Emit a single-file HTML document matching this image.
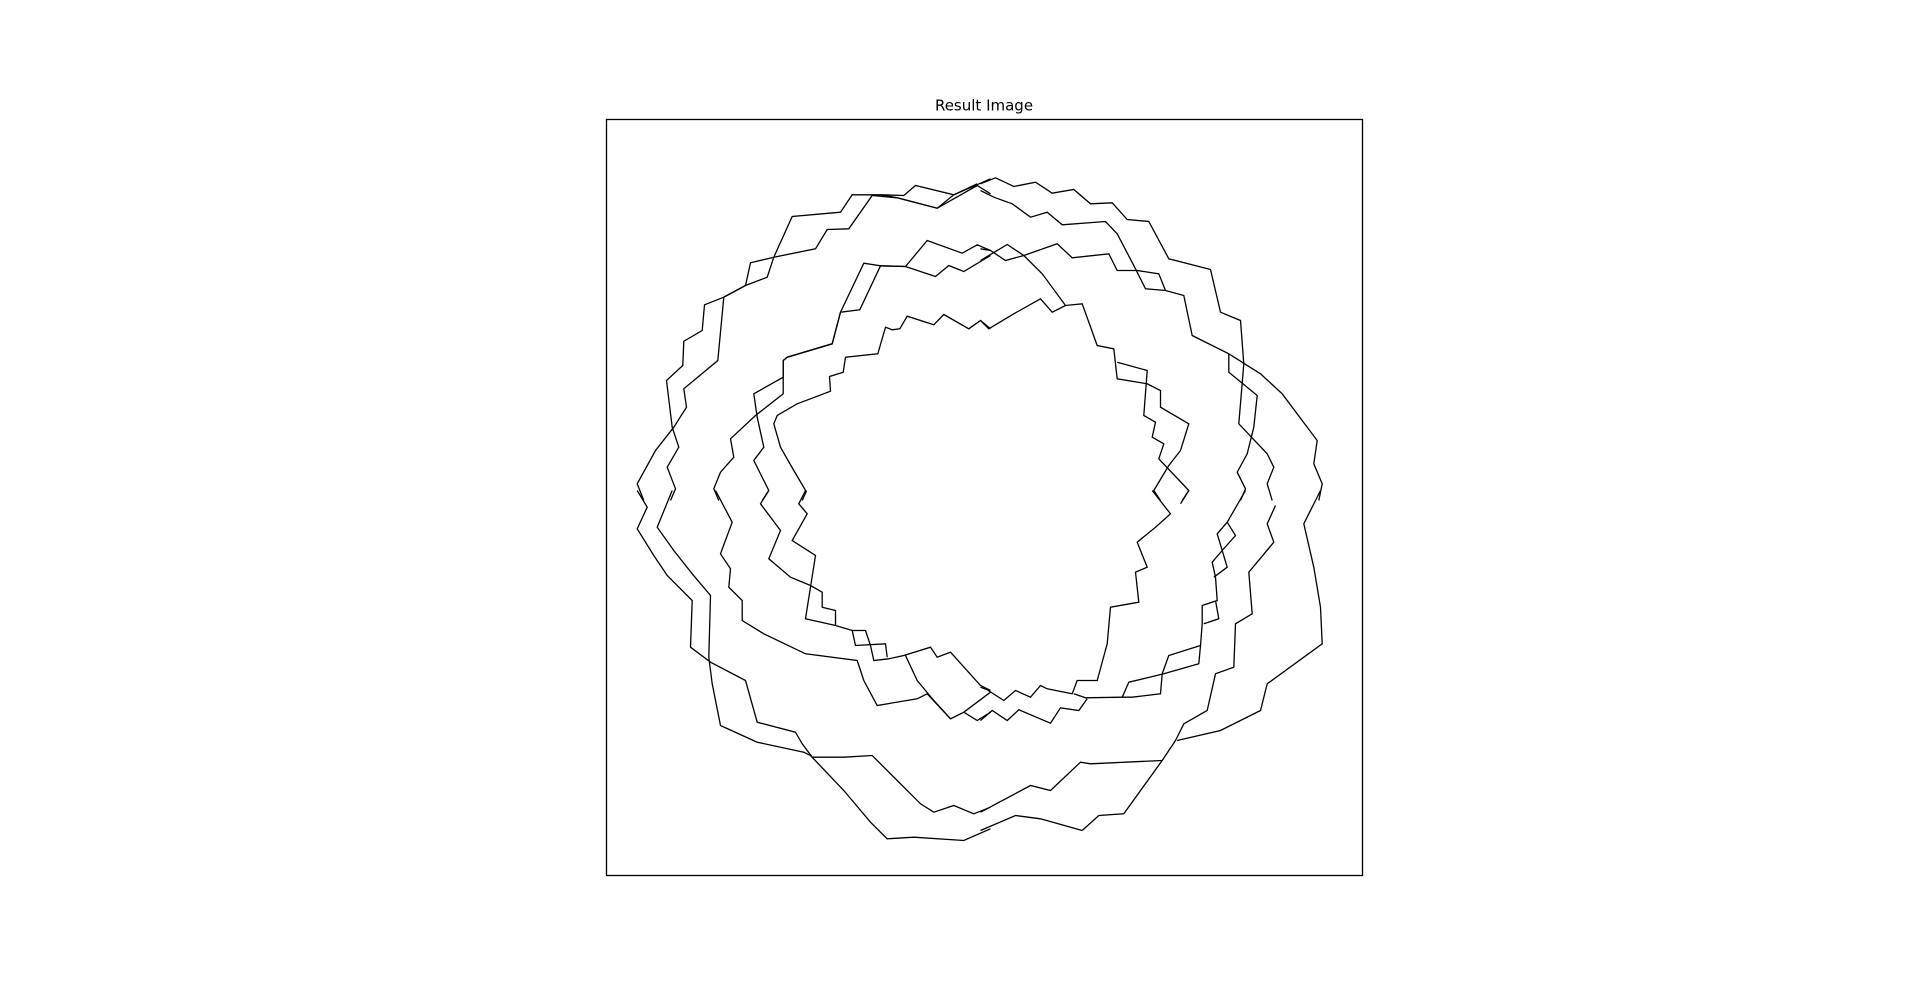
<!DOCTYPE html>
<html><head><meta charset="utf-8"><style>
html,body{margin:0;padding:0;background:#fff;width:1920px;height:983px;overflow:hidden}
svg{position:absolute;left:0;top:0}
</style></head><body>
<svg id="chart" width="1920" height="983">
<text x="984" y="110.5" text-anchor="middle" font-family="DejaVu Sans, Liberation Sans, sans-serif" font-size="15" fill="#000">Result Image</text>
<rect x="606.5" y="119.5" width="756" height="756" fill="none" stroke="#000" stroke-width="1.3"/>
<g id="contours"></g>
</svg>
<script>
// image coordinate domain (1/3 pixel units of a 756px square image)
const imageDomain = [0, 2268];
// tile origins in image units
const tileTL = [72, 123], tileTR = [1122, 123], tileBL = [72, 1113], tileBR = [1122, 1113];
// contour point series (image units relative to tile)
const segP = [[1040,70],[970,103],[920,143],[800,112],[750,103],[665,103],[630,155],[485,168],[430,290],[410,350],[345,375],[280,410],[222,433],[215,510],[160,542],[157,615],[108,660],[125,800],[145,860],[110,920],[135,985],[120,1020]];
const segQ = [[725,105],[655,205],[590,207],[555,265],[430,290],[360,307],[345,375],[280,410],[262,600],[160,685],[168,740],[130,800],[75,870],[20,970],[40,1020]];
const segA1 = [[750,103],[820,105],[855,75],[970,103],[1080,55]];
const segA2 = [[725,105],[800,112],[920,143],[1040,75],[1080,100]];
const segR = [[1080,270],[1040,253],[995,278],[890,240],[825,318],[750,316],[700,308],[630,455],[605,550],[470,590],[458,600],[458,700],[375,765],[300,835],[310,890],[270,935],[250,985],[265,1020]];
const segS = [[1080,285],[1000,333],[955,315],[915,348],[825,318],[750,316],[688,448],[630,455],[605,550],[470,590],[458,600],[458,650],[370,700],[380,770],[400,860],[370,900],[415,990],[395,1020]];
const segT = [[1080,505],[1050,480],[1015,505],[940,462],[910,493],[830,467],[808,505],[785,508],[765,500],[742,580],[645,590],[638,635],[597,648],[600,692],[500,730],[440,765],[430,790],[450,860],[490,930],[527,993],[515,1020]];
const z5a = [[0,70],[45,52],[100,78],[165,65],[215,98],[280,87],[330,130],[395,127],[440,177],[505,183],[565,295],[690,327],[720,455],[780,480],[790,610],[775,790],[860,880],[880,920],[860,970],[875,1020]];
const z5b = [[0,90],[40,110],[95,130],[150,170],[200,155],[245,193],[375,183],[410,220],[465,325],[495,385],[555,390],[610,405],[635,525],[745,580],[840,640],[905,700],[1010,840],[1000,910],[1025,970],[1015,1020]];
const z5c = [[0,265],[30,270],[75,300],[130,285],[230,250],[275,292],[385,280],[410,330],[470,330],[535,340],[555,390]];
const z5d = [[0,300],[80,252],[130,285],[185,340],[255,435],[305,430],[350,555],[400,565],[410,655],[500,670],[540,690],[540,740],[625,790],[600,870],[565,915],[520,990],[540,1020]];
const z5e = [[0,480],[25,505],[100,460],[180,415],[215,455],[255,435]];
const z5f = [[410,605],[500,630],[490,765],[525,785],[515,830],[550,850],[535,895],[625,990],[605,1020]];
const z5g = [[745,580],[745,635],[830,705],[820,800],[800,880],[770,935],[795,985],[780,1020]];
const z7a = [[515,0],[570,70],[525,110],[470,155],[500,230],[465,245],[475,335],[390,350],[380,460],[350,570],[290,570],[275,610],[200,595],[180,585],[150,620],[105,600],[70,630],[20,598],[0,590]];
const z7b = [[625,0],[600,40]];
const z7c = [[795,0],[740,95],[710,130],[725,180],[695,215],[705,260],[710,330],[665,345],[665,400],[660,465],[565,495],[545,550],[540,610],[455,620],[425,620],[315,622],[280,610]];
const z7d = [[740,95],[765,135],[725,180],[740,230],[700,260]];
const z7e = [[705,330],[715,385],[670,400]];
const z7f = [[660,465],[655,520],[550,550],[445,575],[425,620]];
const z7g = [[885,45],[860,100],[880,155],[805,245],[815,370],[765,400],[760,530],[705,550],[680,660],[610,700],[585,750],[545,810],[430,970],[355,975],[305,1020]];
const z7h = [[1020,0],[970,100],[1000,230],[1020,350],[1025,460],[860,580],[840,660],[720,720],[590,750]];
const z7i = [[545,810],[330,820],[300,815],[210,900],[150,885],[0,965]];
const z7j = [[0,1020],[105,975],[180,985],[305,1020]];
const z7k = [[0,690],[35,660],[80,690],[115,658],[210,698],[240,652],[295,660],[320,625]];
const z6a = [[20,0],[50,50],[20,115],[70,195],[110,255],[185,330],[180,470],[240,515],[345,570],[380,695],[495,725],[515,760],[545,800],[640,800],[725,795],[800,870],[870,940],[910,965],[970,945],[1030,970],[1080,950]];
const z6b = [[125,0],[80,110],[130,180],[185,250],[240,315],[235,500],[245,580],[270,705],[380,755],[520,785],[540,795],[640,900],[720,995],[770,1045],[850,1040],[1000,1050],[1080,1015]];
const z6c = [[255,0],[305,95],[270,190],[300,235],[295,290],[335,330],[335,390],[400,430],[525,490],[680,510],[700,570],[740,645],[860,625],[890,610],[960,685],[1000,665],[1080,605]];
const z6d = [[415,0],[390,40],[450,120],[415,205],[480,260],[540,285],[575,305],[575,350],[615,360],[615,405],[665,420],[705,420],[720,465],[730,510],[775,505],[820,495],[900,470],[920,500],[960,485],[1050,585],[1080,600]];
const z6e = [[525,0],[505,40],[530,70],[485,150],[555,195],[525,385],[615,405]];
const z6f = [[665,420],[675,465],[765,460],[770,500]];
const z6g = [[825,495],[860,570],[910,630],[960,685]];
const z6h = [[1000,665],[1040,690],[1080,665]];

const frameLeft = 606.5, frameTop = 119.5, frameSize = 756;
function xScale(v){ return frameLeft + (v - imageDomain[0]) / (imageDomain[1]-imageDomain[0]) * frameSize; }
function yScale(v){ return frameTop + (v - imageDomain[0]) / (imageDomain[1]-imageDomain[0]) * frameSize; }

const series = [
 ['contour-p', segP, tileTL], ['contour-q', segQ, tileTL], ['contour-a1', segA1, tileTL], ['contour-a2', segA2, tileTL],
 ['contour-r', segR, tileTL], ['contour-s', segS, tileTL], ['contour-t', segT, tileTL],
 ['contour-z5a', z5a, tileTR], ['contour-z5b', z5b, tileTR], ['contour-z5c', z5c, tileTR], ['contour-z5d', z5d, tileTR],
 ['contour-z5e', z5e, tileTR], ['contour-z5f', z5f, tileTR], ['contour-z5g', z5g, tileTR],
 ['contour-z7a', z7a, tileBR], ['contour-z7b', z7b, tileBR], ['contour-z7c', z7c, tileBR], ['contour-z7d', z7d, tileBR],
 ['contour-z7e', z7e, tileBR], ['contour-z7f', z7f, tileBR], ['contour-z7g', z7g, tileBR], ['contour-z7h', z7h, tileBR],
 ['contour-z7i', z7i, tileBR], ['contour-z7j', z7j, tileBR], ['contour-z7k', z7k, tileBR],
 ['contour-z6a', z6a, tileBL], ['contour-z6b', z6b, tileBL], ['contour-z6c', z6c, tileBL], ['contour-z6d', z6d, tileBL],
 ['contour-z6e', z6e, tileBL], ['contour-z6f', z6f, tileBL], ['contour-z6g', z6g, tileBL], ['contour-z6h', z6h, tileBL]
];
const g = document.getElementById('contours');
const NS = 'http://www.w3.org/2000/svg';
series.forEach(function(s){
  const pts = s[1].map(function(p){ return xScale(p[0]+s[2][0]).toFixed(1)+','+yScale(p[1]+s[2][1]).toFixed(1); }).join(' ');
  const pl = document.createElementNS(NS,'polyline');
  pl.setAttribute('points', pts);
  pl.setAttribute('fill','none');
  pl.setAttribute('stroke','#000');
  pl.setAttribute('stroke-width','1.3');
  pl.setAttribute('stroke-linejoin','miter');
  
  
  g.appendChild(pl);
});
</script>
</body></html>
